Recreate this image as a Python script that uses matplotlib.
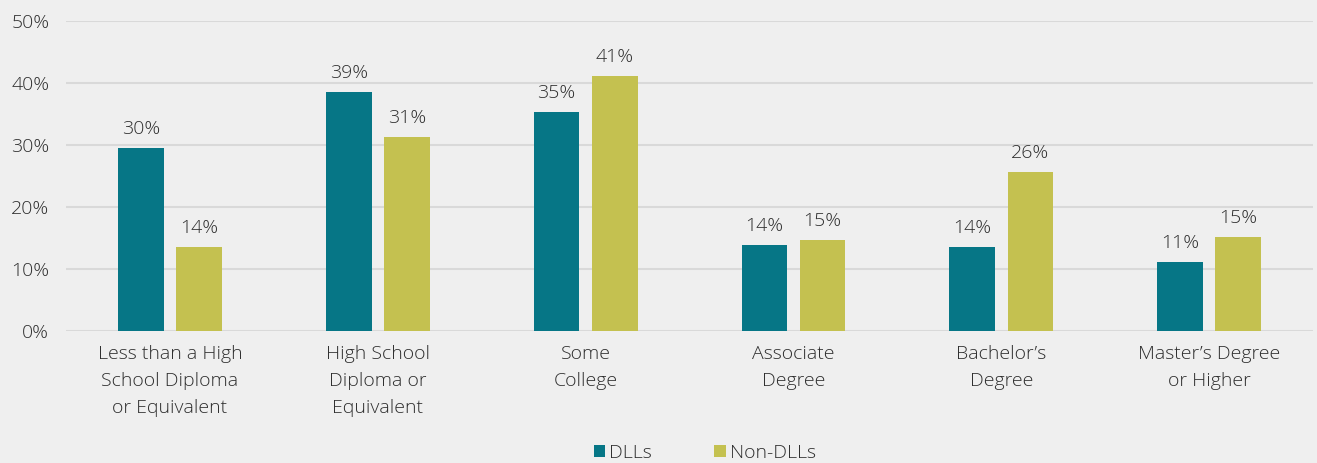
import numpy as np
import matplotlib.pyplot as plt

categories = ["Less than a High\nSchool Diploma\nor Equivalent",
              "High School\nDiploma or\nEquivalent",
              "Some\nCollege",
              "Associate\nDegree",
              "Bachelor\u2019s\nDegree",
              "Master\u2019s Degree\nor Higher"]
dlls = [29.6, 38.6, 35.4, 13.9, 13.6, 11.1]
non_dlls = [13.6, 31.3, 41.2, 14.7, 25.7, 15.2]
yticks = [0, 10, 20, 30, 40, 50]

bg = "#EFEFEF"
teal = "#067686"
olive = "#C4C150"
txt = "#2E2E2E"

plt.rcParams['font.family'] = ['Open Sans', 'DejaVu Sans']
plt.rcParams['font.weight'] = 300
fs = 14

fig = plt.figure(figsize=(13.17, 4.63), dpi=100, facecolor=bg)
ax = fig.add_axes([0.0501, 0.285, 0.947, 0.6696], facecolor=bg)

x = np.arange(len(categories))
w = 0.22
b1 = ax.bar(x - 0.14, dlls, w, color=teal, label="DLLs", zorder=3)
b2 = ax.bar(x + 0.14, non_dlls, w, color=olive, label="Non-DLLs", zorder=3)

for bars, vals in [(b1, dlls), (b2, non_dlls)]:
    for r, v in zip(bars, vals):
        ax.text(r.get_x() + r.get_width() / 2, v + 1.6, f"{round(v):d}%",
                ha="center", va="bottom", fontsize=fs, color=txt)

ax.set_xlim(-0.5, len(categories) - 0.5)
ax.set_ylim(0, 50)
ax.set_yticks(yticks)
ax.set_yticklabels([f"{t}%" for t in yticks], fontsize=fs, color=txt)
ax.set_xticks(x)
ax.set_xticklabels(categories, fontsize=fs, color=txt, linespacing=1.65)
ax.tick_params(length=0)
ax.tick_params(axis="x", pad=10)
ax.tick_params(axis="y", pad=12)
ax.grid(axis="y", color="#D9D9D9", linewidth=1.5, zorder=0)
for s in ax.spines.values():
    s.set_visible(False)

fig.legend(handles=[b1, b2], loc="center", bbox_to_anchor=(0.535, 0.022),
           ncol=2, frameon=False, fontsize=fs, handlelength=0.6,
           handleheight=0.6, handletextpad=0.2, columnspacing=3.2,
           labelcolor=txt)

fig.savefig("out.png", facecolor=bg)
